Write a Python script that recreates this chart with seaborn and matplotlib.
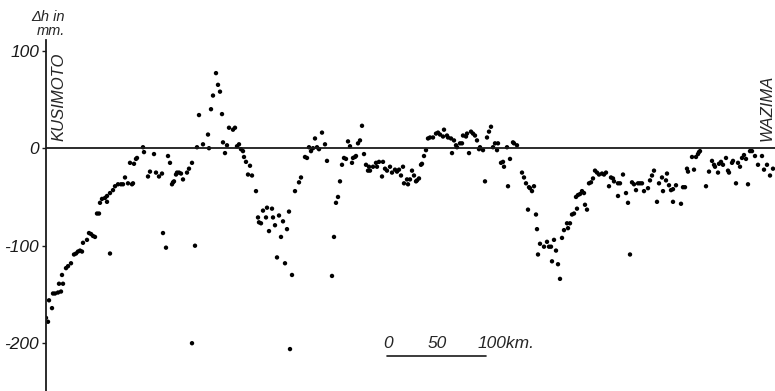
import matplotlib
matplotlib.use("Agg")
import matplotlib.pyplot as plt
import seaborn as sns
import pandas as pd

# distance from KUSIMOTO along the route (km)
dist_km = [
    0, 2, 3, 6, 7, 9, 12, 13, 15, 16, 17, 20, 22, 25, 28, 30, 32, 34, 36, 37,
    41, 43, 45, 47, 49, 51, 53, 54, 56, 59, 61, 61, 64, 64, 67, 69, 72, 75, 77, 79,
    82, 86, 87, 84, 88, 90, 91, 97, 98, 102, 104, 108, 110, 113, 116, 117, 120, 122, 124, 126,
    127, 128, 130, 131, 133, 135, 137, 141, 143, 146, 146, 149, 151, 153, 157, 162, 163, 165, 167, 170,
    172, 174, 176, 177, 179, 181, 183, 187, 189, 191, 193, 195, 197, 198, 200, 202, 204, 206, 210, 212,
    213, 215, 217, 220, 221, 223, 226, 227, 229, 231, 233, 235, 237, 239, 241, 243, 244, 246, 249, 253,
    255, 259, 261, 263, 265, 267, 269, 271, 273, 276, 279, 281, 286, 288, 290, 292, 294, 296, 298, 300,
    302, 304, 306, 307, 309, 310, 312, 314, 316, 318, 320, 322, 323, 324, 327, 330, 331, 333, 336, 337,
    339, 341, 344, 346, 349, 351, 353, 355, 357, 358, 361, 362, 364, 366, 368, 370, 371, 373, 375, 376,
    378, 380, 382, 384, 387, 390, 392, 394, 397, 398, 401, 402, 405, 406, 408, 410, 411, 414, 416, 417,
    420, 421, 423, 425, 427, 429, 431, 433, 434, 437, 439, 441, 443, 445, 447, 449, 451, 452, 455, 457,
    458, 461, 462, 464, 467, 468, 471, 476, 478, 480, 483, 484, 486, 488, 482, 490, 491, 492, 494, 498,
    501, 503, 505, 506, 508, 510, 512, 514, 516, 518, 521, 522, 524, 526, 528, 530, 531, 532, 534, 536,
    538, 539, 541, 543, 545, 547, 549, 551, 553, 556, 558, 560, 563, 565, 567, 568, 572, 572, 574, 577,
    580, 582, 584, 586, 588, 590, 592, 594, 596, 598, 602, 604, 606, 608, 611, 613, 616, 617, 620, 621,
    623, 625, 627, 627, 630, 635, 637, 639, 641, 642, 646, 648, 650, 652, 653, 654, 660, 663, 666, 668,
    669, 672, 673, 675, 677, 680, 682, 683, 686, 687, 690, 692, 694, 696, 698, 700, 702, 704, 706, 709,
    712, 716, 718, 721, 724, 727,
]
# change in height (mm)
dh_mm = [
    -174, -178, -156, -164, -149, -149, -148, -139, -147, -130, -139, -123, -121, -118, -109, -108, -106, -105, -106, -97,
    -94, -87, -88, -90, -91, -67, -67, -56, -52, -51, -49, -55, -46, -108, -43, -39, -37, -37, -37, -30,
    -36, -37, -36, -15, -16, -11, -10, 1, -4, -29, -24, -6, -25, -29, -26, -87, -102, -8, -15, -37,
    -35, -34, -27, -25, -25, -26, -32, -25, -21, -15, -200, -100, 1, 34, 4, 14, 0, 40, 54, 77,
    65, 58, 35, 6, -5, 3, 21, 19, 21, 2, 4, -1, -3, -9, -14, -27, -18, -28, -44, -71,
    -76, -77, -64, -71, -61, -85, -62, -71, -79, -112, -69, -91, -75, -118, -83, -65, -206, -130, -44, -35,
    -30, -9, -10, 1, -3, 0, 10, 1, -1, 16, 4, -13, -131, -91, -56, -50, -34, -17, -10, -11,
    7, 2, -15, -10, -9, -8, 5, 8, 23, -6, -17, -23, -19, -23, -19, -15, -19, -14, -29, -14,
    -21, -23, -19, -25, -22, -24, -22, -28, -19, -36, -32, -37, -32, -23, -28, -34, -33, -31, -17, -16,
    -8, -2, 10, 11, 11, 15, 16, 14, 12, 19, 13, 11, 10, -5, 8, 3, 1, 5, 5, 13,
    12, 15, -5, 17, 15, 13, 8, -1, 1, -2, -34, 11, 17, 22, 1, 5, -2, 5, -15, -14,
    -19, 1, -39, -11, 6, 5, 3, -25, -30, -36, -40, -41, -44, -39, -63, -68, -83, -109, -98, -101,
    -96, -101, -101, -116, -94, -105, -119, -134, -92, -84, -77, -82, -77, -68, -67, -50, -62, -48, -47, -44,
    -46, -58, -63, -36, -35, -31, -23, -25, -27, -26, -27, -25, -39, -30, -31, -34, -36, -49, -36, -27,
    -46, -56, -109, -35, -37, -43, -36, -36, -36, -44, -41, -33, -28, -23, -55, -36, -30, -44, -33, -26,
    -38, -43, -42, -55, -38, -57, -40, -40, -21, -24, -9, -22, -9, -6, -4, -3, -39, -24, -13, -17,
    -19, -25, -16, -14, -17, -10, -23, -25, -15, -13, -36, -15, -19, -10, -7, -11, -37, -3, -3, -8,
    -17, -8, -22, -17, -28, -21,
]
y_ticks = [100, 0, -100, -200]
y_tick_labels = ["100", "0", "-100", "-200"]
scale_ticks = ["0", "50", "100km."]

df = pd.DataFrame({"km": dist_km, "dh": dh_mm})

sns.set_style("white")
FONT = ["Liberation Sans Narrow", "Liberation Sans", "DejaVu Sans"]
plt.rcParams["font.family"] = FONT
plt.rcParams["font.style"] = "italic"

W, H = 775, 391
fig = plt.figure(figsize=(W / 100, H / 100), dpi=100)
ax = fig.add_axes([46 / W, 0, (W - 46) / W, 1])

sns.scatterplot(data=df, x="km", y="dh", ax=ax, color="black", s=10,
                edgecolor="none", linewidth=0, legend=False)

ax.set_xlim(0, W - 46)
ax.set_ylim(-249, 152)
ax.axhline(0, color="#1a1a1a", lw=1.3, zorder=1)

for s in ["top", "right", "bottom"]:
    ax.spines[s].set_visible(False)
ax.spines["left"].set_bounds(-249, 111)
ax.spines["left"].set_linewidth(1.3)
ax.spines["left"].set_color("#1a1a1a")

ax.set_xticks([])
ax.set_yticks(y_ticks)
ax.set_yticklabels(y_tick_labels, fontsize=12.5, style="italic")
ax.tick_params(axis="y", direction="out", length=3, width=1, pad=2, left=True, colors="#1a1a1a")
ax.set_xlabel("")
ax.set_ylabel("")

# axis title (two lines)
fig.text(65 / W, 1 - 21 / H, "Δh in", ha="right", va="baseline", fontsize=10.5, style="italic")
fig.text(65 / W, 1 - 35 / H, "mm.", ha="right", va="baseline", fontsize=10.5, style="italic")

# end stations
fig.text(59 / W, 1 - 97 / H, "KUSIMOTO", rotation=90, ha="center", va="center",
         fontsize=12, style="italic")
fig.text(767 / W, 1 - 108 / H, "WAZIMA", rotation=90, ha="center", va="center",
         fontsize=12, style="italic")

# distance scale bar
ax.plot([341, 440], [-213, -213], color="#1a1a1a", lw=1.2)
ax.text(342, -205, scale_ticks[0], ha="center", va="baseline", fontsize=12.5, style="italic")
ax.text(391, -205, scale_ticks[1], ha="center", va="baseline", fontsize=12.5, style="italic")
ax.text(432, -205, scale_ticks[2], ha="left", va="baseline", fontsize=12.5, style="italic")

fig.savefig("out.png", dpi=100)
